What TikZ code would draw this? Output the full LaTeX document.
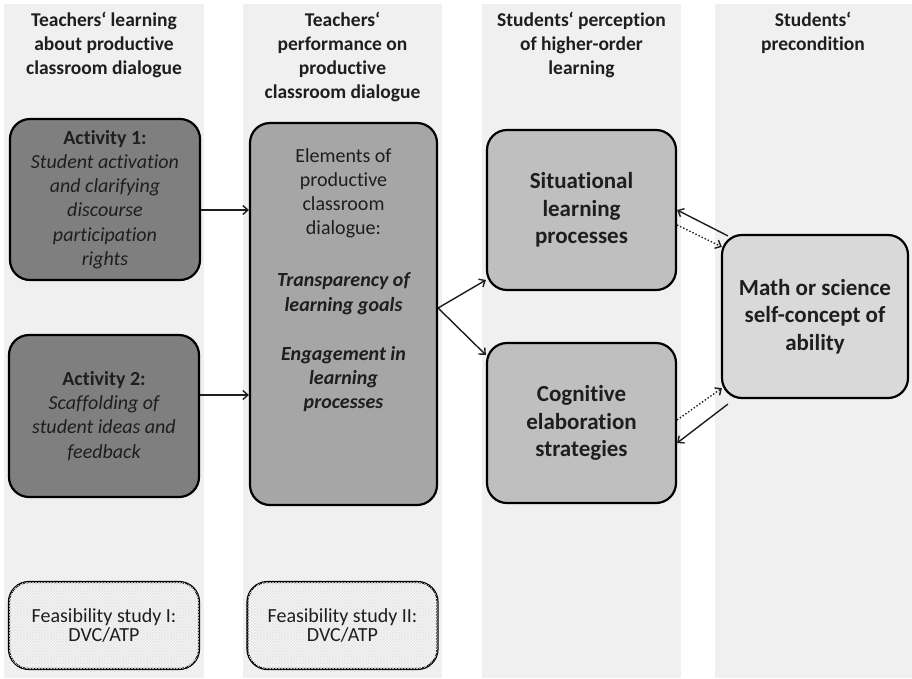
\documentclass[tikz,border=0pt]{standalone}
\usepackage{fontspec}
\setmainfont[RawFeature={-liga;-clig;-calt;-dlig}]{Carlito}
\usetikzlibrary{arrows.meta,patterns}
\definecolor{colbg}{HTML}{F0F0F0}
\definecolor{actfill}{HTML}{7F7F7F}
\definecolor{elemfill}{HTML}{A6A6A6}
\definecolor{outfill}{HTML}{BFBFBF}
\definecolor{mathfill}{HTML}{D9D9D9}
\definecolor{txt}{HTML}{1E1E1E}
\tikzset{
  box/.style={draw=black, line width=2.2pt, rounded corners=20pt, align=center, text=txt, inner sep=0pt},
  hdr/.style={align=center, text=txt, font=\fontsize{19.5}{24}\selectfont\bfseries},
  acttxt/.style={font=\fontsize{20}{24.2}\selectfont},
  bigtxt/.style={font=\fontsize{23}{27.5}\selectfont\bfseries},
  feas/.style={box, fill=colbg!50!white, postaction={pattern=crosshatch, pattern color=gray!20},
     font=\fontsize{20}{19.5}\selectfont, minimum width=190pt, minimum height=87pt},
  arr/.style={-{Straight Barb[length=5pt,width=9pt]}, line width=1.4pt, draw=txt},
  dotarr/.style={arr, dotted, line width=1.4pt}
}
\begin{document}
\begin{tikzpicture}[x=1pt,y=-1pt]
\fill[white] (0,0) rectangle (912,678);
\useasboundingbox (0,0) rectangle (912,678);
% columns
\fill[colbg] (4,4) rectangle (204,678);
\fill[colbg] (243,4) rectangle (442,678);
\fill[colbg] (482,4) rectangle (681,678);
\fill[colbg] (715,4) rectangle (912,678);
% headers
\node[hdr] (h1) at (104,45) {Teachers‘ learning\\about productive\\classroom dialogue};
\node[hdr] (h2) at (342.5,57) {Teachers‘\\performance on\\productive\\classroom dialogue};
\node[hdr] (h3) at (581.5,45) {Students‘ perception\\of higher-order\\learning};
\node[hdr] (h4) at (813,33) {Students‘\\precondition};
% boxes
\node[box, fill=actfill, minimum width=190pt, minimum height=161pt, acttxt] (a1) at (105,199.5)
  {\textbf{Activity 1:}\\\itshape Student activation\\\itshape and clarifying\\\itshape discourse\\\itshape participation\\\itshape rights};
\node[box, fill=actfill, minimum width=190pt, minimum height=162pt, acttxt] (a2) at (104,416)
  {\textbf{Activity 2:}\\\itshape Scaffolding of\\\itshape student ideas and\\\itshape feedback};
\node[box, fill=elemfill, minimum width=187pt, minimum height=382pt] (elem) at (343.5,314) {};
\node[align=center, text=txt, acttxt] (elemtxt) at (343.5,280)
  {Elements of\\productive\\classroom\\dialogue:\\[28pt]
   \bfseries\itshape Transparency of\\\bfseries\itshape learning goals\\[25pt]
   \bfseries\itshape Engagement in\\\bfseries\itshape learning\\\bfseries\itshape processes};
\node[box, fill=outfill, minimum width=189pt, minimum height=160pt, bigtxt] (sit) at (581.5,210)
  {Situational\\learning\\processes};
\node[box, fill=outfill, minimum width=189pt, minimum height=160pt, bigtxt] (cog) at (581.5,423)
  {Cognitive\\elaboration\\strategies};
\node[box, fill=mathfill, minimum width=186pt, minimum height=163pt, bigtxt] (math) at (815,316.5)
  {Math or science\\self-concept of\\ability};
\node[feas] (f1) at (104,625.5) {Feasibility study I:\\DVC/ATP};
\node[feas] (f2) at (342.5,625.5) {Feasibility study II:\\DVC/ATP};
% arrows
\draw[arr] (a1.east |- 0,210) -- (elem.west |- 0,210);
\draw[arr] (a2.east |- 0,395) -- (elem.west |- 0,395);
\draw[arr] ([yshift=6pt]elem.east) -- (sit.west |- 0,280);
\draw[arr] ([yshift=6pt]elem.east) -- (cog.west |- 0,355);
\draw[arr] ([shift={(7,2)}]math.north west) -- (sit.east |- 0,210);
\draw[dotarr] (sit.east |- 0,225) -- ([shift={(1,13)}]math.north west);
\draw[dotarr] (cog.east |- 0,420) -- ([shift={(1,-11)}]math.south west);
\draw[arr] ([shift={(7,5)}]math.south west) -- (cog.east |- 0,443);
\end{tikzpicture}
\end{document}
